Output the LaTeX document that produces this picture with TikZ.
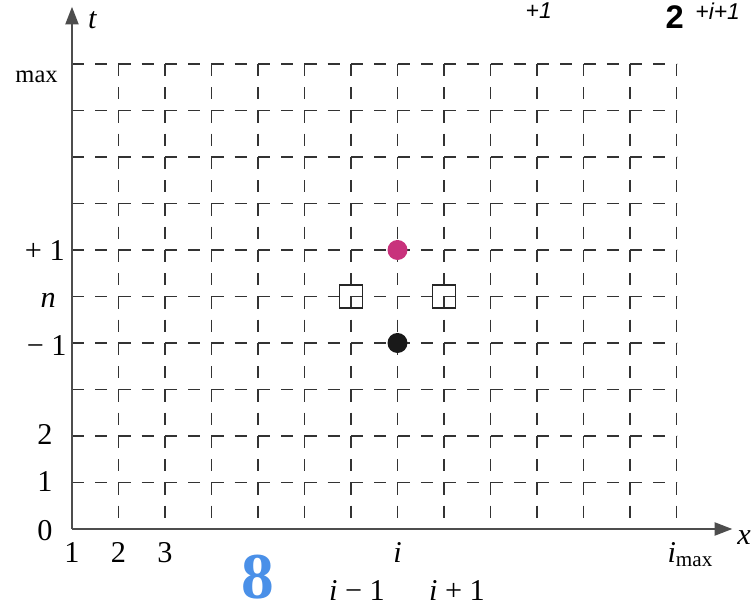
\documentclass[tikz,border=0pt]{standalone}
\usepackage{amsmath}
\usepackage{fontspec}
\setmainfont{Liberation Serif}
\newfontfamily\fragfont{Liberation Sans}
\usetikzlibrary{arrows.meta, positioning}

\definecolor{gridgray}{HTML}{333333}
\definecolor{axisgray}{HTML}{4D4D4D}
\definecolor{dotmagenta}{HTML}{C8327C}
\definecolor{pageblue}{HTML}{4A90E8}

\begin{document}
\begin{tikzpicture}[
  font=\fontsize{18.5}{22}\selectfont,
  gridline/.style={gridgray, line width=1.1pt, dash pattern=on 0.26cm off 0.24cm},
  axisline/.style={axisgray, line width=1.3pt, -{Triangle[length=0.38cm, width=0.28cm]}},
  meshdot/.style={circle, inner sep=0pt, minimum size=0.43cm},
  meshbox/.style={draw=black!85, line width=0.9pt, inner sep=0pt, minimum size=0.5cm},
  lab/.style={inner sep=0pt}
]
\useasboundingbox (-1.548,-1.763) rectangle (14.645,11.376);
\def\imax{13}
\def\nmax{10}

\coordinate (O) at (0,0);
\coordinate (X) at (14.2,0);
\coordinate (T) at (0,11.23);

% dashed mesh
\foreach \i in {1,...,\imax}
  \draw[gridline] (\i,\nmax) -- (\i,0);
\foreach \n in {1,...,\nmax}
  \draw[gridline] (0,\n) -- (\imax,\n);

% axes
\draw[axisline] (O) -- (X);
\draw[axisline] (O) -- (T);
\node[lab, anchor=base west] (xlab) at (14.3,-0.34) {\textit{x}};
\node[lab, anchor=base west] (tlab) at (0.34,10.77) {\textit{t}};

% space indices
\node[lab, anchor=base] (i1) at (0,-0.72) {1};
\node[lab, anchor=base] (i2) at (1,-0.72) {2};
\node[lab, anchor=base] (i3) at (2,-0.72) {3};
\node[lab, anchor=base] (ii) at (7,-0.72) {\textit{i}};
\node[lab, anchor=base] (iminus) at (6.13,-1.53) {\textit{i} − 1};
\node[lab, anchor=base] (iplus) at (8.28,-1.53) {\textit{i} + 1};
\node[lab, anchor=base west] (imaxlab) at (12.8,-0.72) {\textit{i}$_{\text{max}}$};

% time levels
\node[lab, anchor=base east] (n0) at (-0.41,-0.24) {0};
\node[lab, anchor=base east] (n1) at (-0.41,0.80) {1};
\node[lab, anchor=base east] (n2) at (-0.41,1.81) {2};
\node[lab, anchor=base east] (nminus) at (-0.11,3.74) {− 1};
\node[lab, anchor=base east] (nn) at (-0.34,4.77) {\textit{n}};
\node[lab, anchor=base east] (nplus) at (-0.15,5.78) {+ 1};
\node[lab, anchor=base east, font=\fontsize{15}{18}\selectfont] (nmaxlab) at (-0.3,9.61) {max};

% stencil points
\node[meshdot, fill=dotmagenta] (new) at (7,6) {};
\node[meshdot, fill=black!90] (old) at (7,4) {};
\node[meshbox] (left) at (6,5) {};
\node[meshbox] (right) at (8,5) {};

% page fragments
\node[lab, anchor=north west, font=\fontsize{14}{16}\fragfont\itshape] (topa) at (9.75,11.33) {+1};
\node[lab, anchor=base west, font=\fontsize{20}{24}\fragfont\bfseries] (toptwo) at (12.76,10.77) {2};
\node[lab, anchor=north west, font=\fontsize{14}{16}\fragfont\itshape] (topb) at (13.4,11.33) {+i+1};
\node[lab, font=\fontsize{40}{44}\selectfont\bfseries, text=pageblue] (pagenum) at (3.99,-1.03) {8};

\end{tikzpicture}
\end{document}
